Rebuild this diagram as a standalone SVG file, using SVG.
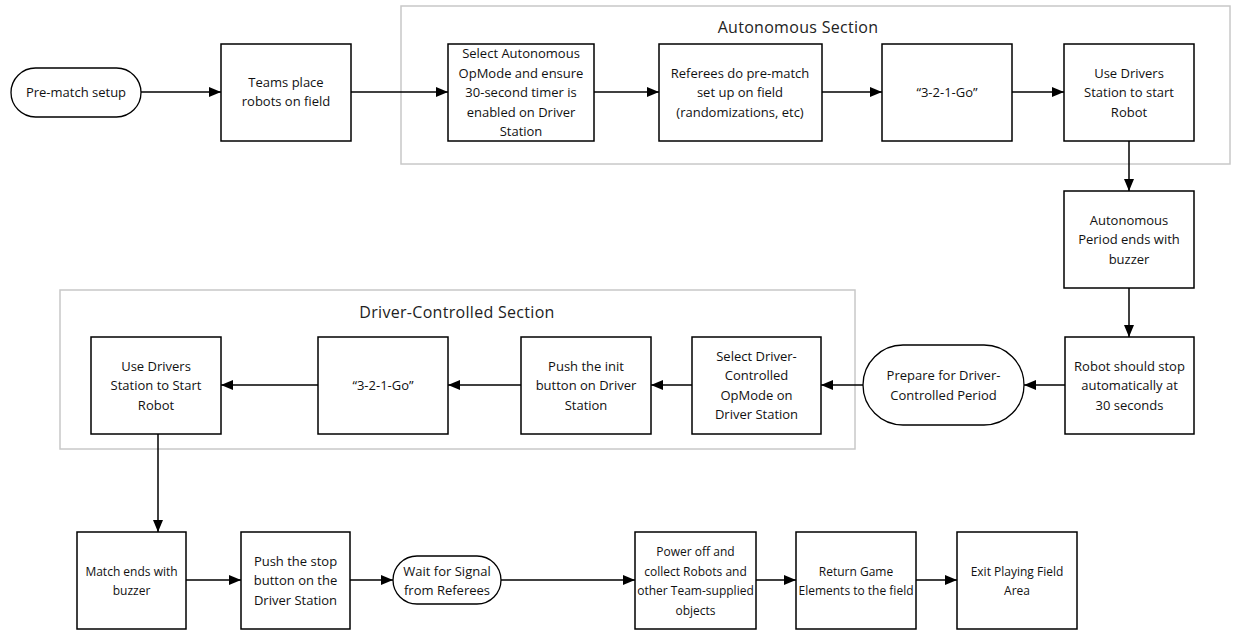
<svg xmlns="http://www.w3.org/2000/svg" width="1233" height="630" viewBox="0 0 1233 630">
<style>
.box{fill:#fff;stroke:#000;stroke-width:1.5}
.term{fill:#fff;stroke:#000;stroke-width:1.3}
.sec{fill:none;stroke:#c8c8c8;stroke-width:1.5}
.t{font-family:"Open Sans","Liberation Sans",sans-serif;font-size:13px;fill:#111;text-anchor:middle}
.s{font-size:12px}
.st{font-family:"Open Sans","Liberation Sans",sans-serif;font-size:16px;fill:#222;text-anchor:middle;letter-spacing:0.3px}
.c{fill:none;stroke:#000;stroke-width:1.5;marker-end:url(#ah)}
</style>
<defs>
<marker id="ah" viewBox="0 0 12 10" refX="12" refY="5" markerWidth="12" markerHeight="10" markerUnits="userSpaceOnUse" orient="auto">
<path d="M0,0 L12,5 L0,10 Z" fill="#000"/>
</marker>
</defs>
<rect width="1233" height="630" fill="#fff"/>
<g id="autonomous-section">
<rect class="sec" x="401" y="6" width="829" height="158"/>
<text class="st" x="798" y="33">Autonomous Section</text>
</g>
<g id="driver-section">
<rect class="sec" x="60" y="290" width="795" height="159"/>
<text class="st" x="457" y="318">Driver-Controlled Section</text>
</g>
<g id="connectors">
<path class="c" d="M141,92 H221"/>
<path class="c" d="M351,92 H448"/>
<path class="c" d="M594,92 H659"/>
<path class="c" d="M822,92 H882"/>
<path class="c" d="M1012,92 H1064"/>
<path class="c" d="M1129,141 V191"/>
<path class="c" d="M1129,288 V337"/>
<path class="c" d="M1065,385 H1024"/>
<path class="c" d="M863,385 H821"/>
<path class="c" d="M692,385 H651"/>
<path class="c" d="M521,385 H448"/>
<path class="c" d="M318,385 H221"/>
<path class="c" d="M158,434 V532"/>
<path class="c" d="M186,580 H241"/>
<path class="c" d="M350,580 H393"/>
<path class="c" d="M501,580 H635"/>
<path class="c" d="M756,580 H796"/>
<path class="c" d="M916,580 H957"/>
</g>
<g id="pre-match">
<rect class="term" x="11" y="68" width="130" height="49" rx="24.5"/>
<text class="t" x="76" y="97">Pre-match setup</text>
</g>
<g id="teams-place">
<rect class="box" x="221" y="44" width="130" height="97"/>
<text class="t" x="286" y="87">Teams place</text>
<text class="t" x="286" y="106">robots on field</text>
</g>
<g id="select-auto">
<rect class="box" x="448" y="44" width="146" height="97"/>
<text class="t" x="521" y="58">Select Autonomous</text>
<text class="t" x="521" y="77.5">OpMode and ensure</text>
<text class="t" x="521" y="97">30-second timer is</text>
<text class="t" x="521" y="116.5">enabled on Driver</text>
<text class="t" x="521" y="136">Station</text>
</g>
<g id="referees">
<rect class="box" x="659" y="44" width="163" height="97"/>
<text class="t" x="740" y="77.5">Referees do pre-match</text>
<text class="t" x="740" y="97">set up on field</text>
<text class="t" x="740" y="116.5">(randomizations, etc)</text>
</g>
<g id="go-auto">
<rect class="box" x="882" y="44" width="130" height="97"/>
<text class="t" x="947" y="97">“3-2-1-Go”</text>
</g>
<g id="start-auto">
<rect class="box" x="1064" y="44" width="130" height="97"/>
<text class="t" x="1129" y="77.5">Use Drivers</text>
<text class="t" x="1129" y="97">Station to start</text>
<text class="t" x="1129" y="116.5">Robot</text>
</g>
<g id="auto-ends">
<rect class="box" x="1064" y="191" width="130" height="97"/>
<text class="t" x="1129" y="224.5">Autonomous</text>
<text class="t" x="1129" y="244">Period ends with</text>
<text class="t" x="1129" y="263.5">buzzer</text>
</g>
<g id="robot-stop">
<rect class="box" x="1065" y="337" width="129" height="97"/>
<text class="t" x="1129.5" y="370.5">Robot should stop</text>
<text class="t" x="1129.5" y="390">automatically at</text>
<text class="t" x="1129.5" y="409.5">30 seconds</text>
</g>
<g id="prepare">
<rect class="term" x="863" y="345" width="161" height="80" rx="40"/>
<text class="t" x="943.5" y="380">Prepare for Driver-</text>
<text class="t" x="943.5" y="399.5">Controlled Period</text>
</g>
<g id="select-driver">
<rect class="box" x="692" y="337" width="129" height="97"/>
<text class="t" x="756.5" y="360.5">Select Driver-</text>
<text class="t" x="756.5" y="380">Controlled</text>
<text class="t" x="756.5" y="399.5">OpMode on</text>
<text class="t" x="756.5" y="419">Driver Station</text>
</g>
<g id="push-init">
<rect class="box" x="521" y="337" width="130" height="97"/>
<text class="t" x="586" y="370.5">Push the init</text>
<text class="t" x="586" y="390">button on Driver</text>
<text class="t" x="586" y="409.5">Station</text>
</g>
<g id="go-driver">
<rect class="box" x="318" y="337" width="130" height="97"/>
<text class="t" x="383" y="390">“3-2-1-Go”</text>
</g>
<g id="start-driver">
<rect class="box" x="91" y="337" width="130" height="97"/>
<text class="t" x="156" y="370.5">Use Drivers</text>
<text class="t" x="156" y="390">Station to Start</text>
<text class="t" x="156" y="409.5">Robot</text>
</g>
<g id="match-ends">
<rect class="box" x="77" y="532" width="109" height="97"/>
<text class="t s" x="131.5" y="575.5">Match ends with</text>
<text class="t s" x="131.5" y="595">buzzer</text>
</g>
<g id="push-stop">
<rect class="box" x="241" y="532" width="109" height="97"/>
<text class="t" x="295.5" y="565.5">Push the stop</text>
<text class="t" x="295.5" y="585">button on the</text>
<text class="t" x="295.5" y="604.5">Driver Station</text>
</g>
<g id="wait-signal">
<rect class="term" x="393" y="556" width="108" height="48" rx="24"/>
<text class="t" x="447" y="575.5">Wait for Signal</text>
<text class="t" x="447" y="595">from Referees</text>
</g>
<g id="power-off">
<rect class="box" x="635" y="532" width="121" height="97"/>
<text class="t s" x="695.5" y="556">Power off and</text>
<text class="t s" x="695.5" y="575.5">collect Robots and</text>
<text class="t s" x="695.5" y="595">other Team-supplied</text>
<text class="t s" x="695.5" y="614.5">objects</text>
</g>
<g id="return-game">
<rect class="box" x="796" y="532" width="120" height="97"/>
<text class="t s" x="856" y="575.5">Return Game</text>
<text class="t s" x="856" y="595">Elements to the field</text>
</g>
<g id="exit-field">
<rect class="box" x="957" y="532" width="120" height="97"/>
<text class="t s" x="1017" y="575.5">Exit Playing Field</text>
<text class="t s" x="1017" y="595">Area</text>
</g>
</svg>
